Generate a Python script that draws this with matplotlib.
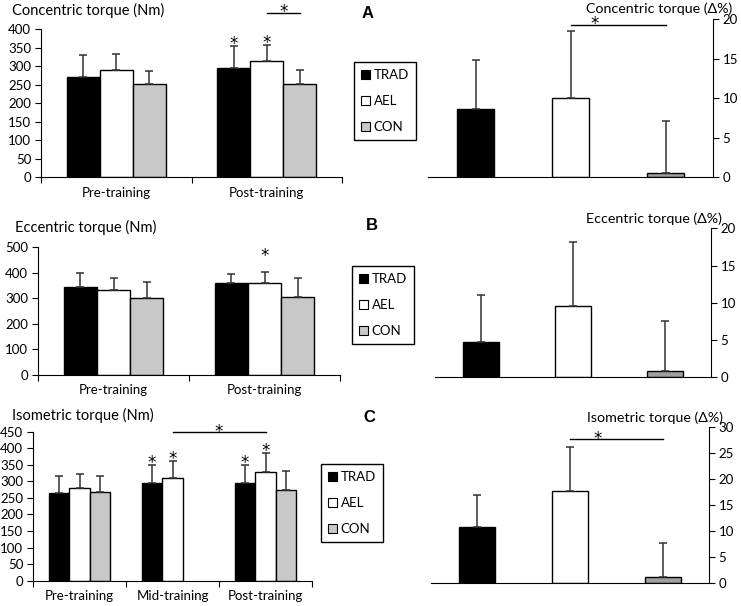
import numpy as np
import matplotlib
matplotlib.use("Agg")
import matplotlib.pyplot as plt
from matplotlib.patches import Patch

plt.rcParams['font.family'] = ['Lato', 'DejaVu Sans']
plt.rcParams['font.size'] = 9

# absolute torque (Nm), mean and SD
groups_2 = ['Pre-training', 'Post-training']
groups_3 = ['Pre-training', 'Mid-training', 'Post-training']

conc_trad = [272, 295]
conc_trad_sd = [59, 59]
conc_ael = [291, 313]
conc_ael_sd = [43, 45]
conc_con = [251, 253]
conc_con_sd = [35, 38]

ecc_trad = [345, 358]
ecc_trad_sd = [55, 37]
ecc_ael = [332, 359]
ecc_ael_sd = [48, 45]
ecc_con = [301, 305]
ecc_con_sd = [63, 75]

iso_trad = [266, 296, 294]
iso_trad_sd = [51, 53, 55]
iso_ael = [279, 311, 329]
iso_ael_sd = [43, 52, 56]
iso_con = [269, np.nan, 275]
iso_con_sd = [48, np.nan, 57]

# relative change (%)
pct_labels = ['TRAD', 'AEL', 'CON']
conc_pct = [8.6, 10.0, 0.5]
conc_pct_sd = [6.2, 8.5, 6.6]
ecc_pct = [4.8, 9.6, 0.9]
ecc_pct_sd = [6.25, 8.6, 6.7]
iso_pct = [10.8, 17.8, 1.15]
iso_pct_sd = [6.2, 8.5, 6.65]

W, H = 741, 606
fig = plt.figure(figsize=(W / 100, H / 100), dpi=100)


def ax_at(x0, x1, ytop, ybot):
    # pixel box -> figure fraction
    return fig.add_axes([x0 / W, 1 - ybot / H, (x1 - x0) / W, (ybot - ytop) / H])


ERR = dict(ecolor='#333333', elinewidth=1.1, capsize=3, capthick=1.1)
COLORS = ['black', 'white', '#c8c8c8']


def star(ax, x, y, dy=-2.2):
    ax.annotate('*', (x, y), xytext=(0, dy), textcoords='offset points',
                ha='center', va='baseline', fontsize=12, family='DejaVu Sans',
                annotation_clip=False)


def abs_panel(ax, groups, series, sds, ymax, step):
    n = len(groups)
    centers = np.arange(n) + 0.5
    w = 0.22
    for i, (vals, sd) in enumerate(zip(series, sds)):
        vals = np.array(vals, dtype=float)
        sd = np.array(sd, dtype=float)
        x = centers + (i - 1) * w
        ok = ~np.isnan(vals)
        ax.bar(x[ok], vals[ok], w, color=COLORS[i], edgecolor='black', linewidth=1,
               yerr=[np.zeros(ok.sum()), sd[ok]], error_kw=ERR, zorder=2)
    ax.set_xlim(0, n)
    ax.set_ylim(0, ymax)
    ax.set_yticks(np.arange(0, ymax + 1, step))
    ax.set_xticks(np.arange(n + 1))
    ax.set_xticklabels([])
    ax.set_xticks(centers, minor=True)
    ax.set_xticklabels(groups, minor=True, fontsize=9.5)
    ax.tick_params(axis='x', which='minor', length=0, pad=7)
    ax.tick_params(axis='x', which='major', length=4, direction='out')
    ax.tick_params(axis='y', length=4, labelsize=9.5, pad=3)
    for s in ['top', 'right']:
        ax.spines[s].set_visible(False)
    return centers, w


def pct_panel(ax, vals, sd, ymax, step):
    x = np.arange(3)
    ax.bar(x, vals, 0.39, color=['black', 'white', '#a0a0a0'], edgecolor='black',
           linewidth=1, yerr=[np.zeros(3), sd], error_kw=ERR, zorder=2)
    ax.set_xlim(-0.5, 2.5)
    ax.set_ylim(0, ymax)
    ax.set_yticks(np.arange(0, ymax + 1, step))
    ax.set_xticks([])
    ax.yaxis.tick_right()
    ax.tick_params(axis='y', length=4, labelsize=9.5, pad=3)
    for s in ['top', 'left']:
        ax.spines[s].set_visible(False)


def legend_at(x0, ytop):
    handles = [Patch(facecolor=c, edgecolor='black', linewidth=0.8) for c in COLORS]
    fig.legend(handles, pct_labels, loc='upper left',
               bbox_to_anchor=(x0 / W, 1 - ytop / H), fontsize=9.5,
               frameon=True, fancybox=False, edgecolor='black', framealpha=1,
               handlelength=0.7, handleheight=0.7, handletextpad=0.25,
               labelspacing=1.05, borderpad=0.55, borderaxespad=0)


# ---- A ----
axA = ax_at(41, 342, 29.3, 177.3)
c, w = abs_panel(axA, groups_2, [conc_trad, conc_ael, conc_con],
                 [conc_trad_sd, conc_ael_sd, conc_con_sd], 400, 50)
star(axA, c[1] - w, conc_trad[1] + conc_trad_sd[1])
star(axA, c[1], conc_ael[1] + conc_ael_sd[1])
axA.plot([c[1], c[1] + w], [445, 445], color='black', lw=1, clip_on=False)
star(axA, c[1] + w / 2, 445, dy=-3.3)

axAr = ax_at(428, 713, 19, 177.3)
pct_panel(axAr, conc_pct, conc_pct_sd, 20, 5)
axAr.plot([1, 2], [19.3, 19.3], color='black', lw=1, clip_on=False)
star(axAr, 1.25, 19.3, dy=-3.3)

# ---- B ----
axB = ax_at(38, 340, 247.3, 374.7)
c, w = abs_panel(axB, groups_2, [ecc_trad, ecc_ael, ecc_con],
                 [ecc_trad_sd, ecc_ael_sd, ecc_con_sd], 500, 100)
star(axB, c[1], ecc_ael[1] + ecc_ael_sd[1], dy=8)

axBr = ax_at(435, 711, 228.3, 377.3)
pct_panel(axBr, ecc_pct, ecc_pct_sd, 20, 5)

# ---- C ----
axC = ax_at(33, 312, 431.7, 580.7)
c, w = abs_panel(axC, groups_3, [iso_trad, iso_ael, iso_con],
                 [iso_trad_sd, iso_ael_sd, iso_con_sd], 450, 50)
for g in [1, 2]:
    star(axC, c[g] - w, iso_trad[g] + iso_trad_sd[g])
    star(axC, c[g], iso_ael[g] + iso_ael_sd[g])
axC.plot([c[1], c[2]], [449, 449], color='black', lw=1, clip_on=False)
star(axC, (c[1] + c[2]) / 2, 449, dy=-3.3)

axCr = ax_at(431, 709, 427.3, 583.3)
pct_panel(axCr, iso_pct, iso_pct_sd, 30, 5)
axCr.plot([1, 2], [27.75, 27.75], color='black', lw=1, clip_on=False)
star(axCr, 1.3, 27.75, dy=-3.3)

# legends
legend_at(354, 62)
legend_at(352, 266)
legend_at(321, 464)

# titles and panel letters
for txt, x, y in [('Concentric torque (Nm)', 12, 10), ('Eccentric torque (Nm)', 15, 227),
                  ('Isometric torque (Nm)', 12, 415)]:
    fig.text(x / W, 1 - y / H, txt, ha='left', va='center', fontsize=10.5)
for txt, x, y in [('Concentric torque (Δ%)', 732, 9), ('Eccentric torque (Δ%)', 722, 219),
                  ('Isometric torque (Δ%)', 723, 418)]:
    fig.text(x / W, 1 - y / H, txt, ha='right', va='center', fontsize=10.3)
for txt, x, y in [('A', 368, 13), ('B', 372, 225), ('C', 369, 418)]:
    fig.text(x / W, 1 - y / H, txt, ha='center', va='center', fontsize=12,
             fontweight='bold', family=['Liberation Sans', 'DejaVu Sans'])

fig.savefig('out.png', dpi=100)
